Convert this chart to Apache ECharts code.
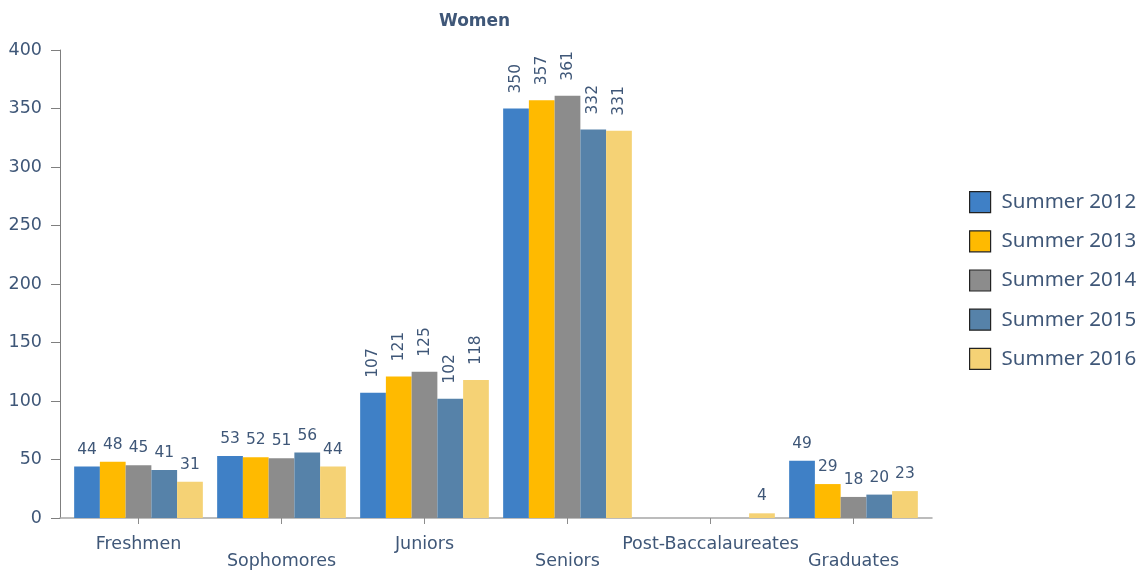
<!DOCTYPE html>
<html>
<head>
<meta charset="utf-8">
<script src="https://cdn.jsdelivr.net/npm/echarts@6/dist/echarts.min.js"></script>
<style>html,body{margin:0;padding:0;background:#fff}#c{width:1146px;height:572px}</style>
</head>
<body>
<div id="c"></div>
<script>
const categories = ['Freshmen','Sophomores','Juniors','Seniors','Post-Baccalaureates','Graduates'];
const seriesNames = ['Summer 2012','Summer 2013','Summer 2014','Summer 2015','Summer 2016'];
const summer2012 = [44, 53, 107, 350, null, 49];
const summer2013 = [48, 52, 121, 357, null, 29];
const summer2014 = [45, 51, 125, 361, null, 18];
const summer2015 = [41, 56, 102, 332, null, 20];
const summer2016 = [31, 44, 118, 331, 4, 23];
const yTicks = [0, 50, 100, 150, 200, 250, 300, 350, 400];

const seriesValues = [summer2012, summer2013, summer2014, summer2015, summer2016];
const colors = ['#3F80C6', '#FFBA00', '#8C8C8C', '#5682A9', '#F5D275'];
const rotatedCats = ['Juniors', 'Seniors'];
const textColor = '#3F5778';

const chart = echarts.init(document.getElementById('c'));
const series = seriesValues.map((vals, si) => ({
  name: seriesNames[si],
  type: 'bar',
  xAxisIndex: 1,
  yAxisIndex: 1,
  barGap: '0%',
  barCategoryGap: '10%',
  itemStyle: { color: colors[si] },
  label: {
    show: true, position: 'top', distance: 9,
    color: textColor, fontSize: 15.5, fontFamily: 'DejaVu Sans'
  },
  data: vals.map((v, ci) => {
    if (rotatedCats.includes(categories[ci])) {
      return { value: v, label: { rotate: 90, align: 'left', verticalAlign: 'middle', distance: 15 } };
    }
    return v;
  })
}));

chart.setOption({
  animation: false,
  title: {
    text: 'Women', left: 434, top: 8,
    textStyle: { color: textColor, fontSize: 17, fontWeight: 'bold', fontFamily: 'DejaVu Sans' }
  },
  legend: {
    orient: 'vertical', left: 969, top: 191, padding: 0,
    itemWidth: 21, itemHeight: 21, itemGap: 17,
    icon: 'rect',
    itemStyle: { borderColor: '#222', borderWidth: 1.2 },
    textStyle: { color: textColor, fontSize: 20.5, fontFamily: 'Noto Sans', padding: [0, 0, 0, 6] },
    data: seriesNames
  },
  grid: [
    { left: 60, right: 214, top: 50, bottom: 54 },
    { left: 67, right: 221, top: 50, bottom: 54 }
  ],
  xAxis: [
    { type: 'category', gridIndex: 0, data: categories,
      axisLine: { lineStyle: { color: '#A6A6A6', width: 1.5 } },
      axisTick: { show: false }, axisLabel: { show: false } },
    { type: 'category', gridIndex: 1, data: categories,
      axisLine: { show: false },
      axisTick: { show: true, alignWithLabel: true, length: 6, lineStyle: { color: '#8C8C8C' } },
      axisLabel: {
        interval: 0, margin: 18, color: textColor, fontSize: 17.5, fontFamily: 'DejaVu Sans', lineHeight: 17,
        formatter: (v, i) => (i % 2 ? '\n' + v : v)
      } }
  ],
  yAxis: [
    { type: 'value', gridIndex: 0, min: yTicks[0], max: yTicks[yTicks.length - 1], interval: yTicks[1] - yTicks[0],
      axisLine: { show: true, lineStyle: { color: '#7F7F7F' } },
      axisTick: { show: true, length: 9, lineStyle: { color: '#7F7F7F' } },
      splitLine: { show: false },
      axisLabel: { margin: 18, color: textColor, fontSize: 17.5, fontFamily: 'DejaVu Sans' } },
    { type: 'value', gridIndex: 1, min: yTicks[0], max: yTicks[yTicks.length - 1], interval: yTicks[1] - yTicks[0],
      show: false, splitLine: { show: false } }
  ],
  series: series
});
</script>
</body>
</html>
